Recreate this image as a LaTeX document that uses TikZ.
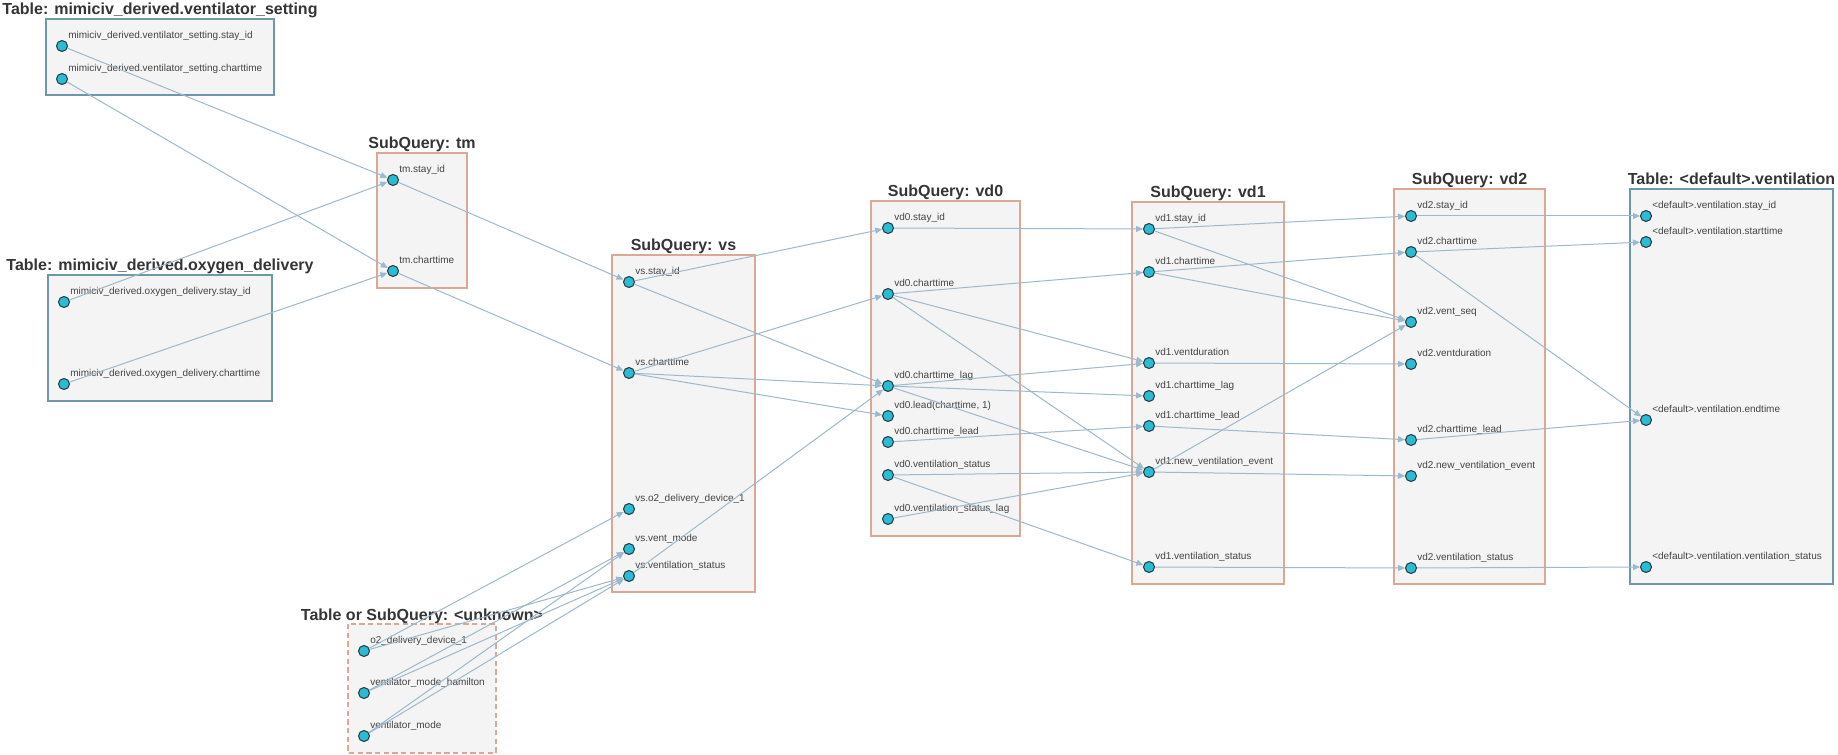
\documentclass[tikz,border=0pt]{standalone}
\usepackage{fontspec}
\setmainfont{Liberation Sans}
\usetikzlibrary{arrows.meta}

\definecolor{edgeblue}{HTML}{9DB9CC}
\definecolor{dotfill}{HTML}{2ABCD2}
\definecolor{dotline}{HTML}{24363D}
\definecolor{tblborder}{HTML}{6E98AA}
\definecolor{sqborder}{HTML}{DCA896}
\definecolor{boxfill}{HTML}{F4F4F4}
\definecolor{titlegray}{HTML}{353535}
\definecolor{lblgray}{HTML}{444444}

\tikzset{
  tablebox/.style={draw=tblborder, fill=boxfill, line width=0.95pt},
  sqbox/.style={draw=sqborder, fill=boxfill, line width=0.95pt},
  unkbox/.style={sqbox, dash pattern=on 4pt off 2.5pt},
  boxtitle/.style={font=\bfseries\fontsize{12}{14}\selectfont, text=titlegray, anchor=base, inner sep=0pt},
  fieldpt/.style={circle, draw=dotline, fill=dotfill, line width=0.75pt, minimum size=8.25pt, inner sep=0pt},
  fieldlbl/.style={font=\fontsize{7.5}{9}\selectfont, text=lblgray, anchor=base west, inner sep=0pt},
  flow/.style={draw=edgeblue, line width=0.75pt, -{Triangle[length=5.25pt, width=4.5pt]}}
}

% column field: name, x, y, caption
\newcommand\colfield[4]{%
  \node[fieldpt] (#1) at (#2,#3) {};
  \node[fieldlbl] (#1-t) at (#2+6,#3-7.5) {#4};
}

\begin{document}
\begin{tikzpicture}[x=0.75pt, y=-0.75pt]
\useasboundingbox[fill=white] (0,0) rectangle (1838,755);

% ---------- containers ----------
\path[tablebox] (46,19) rectangle (274,95);
\node[boxtitle] (t-vset) at (160,15) {Table: mimiciv\_derived.ventilator\_setting};

\path[tablebox] (48,275) rectangle (272,401);
\node[boxtitle] (t-od) at (160,271) {Table: mimiciv\_derived.oxygen\_delivery};

\path[sqbox] (377,153) rectangle (467,288);
\node[boxtitle] (t-tm) at (422,149) {SubQuery: tm};

\path[sqbox] (612,255) rectangle (755,592);
\node[boxtitle] (t-vs) at (683.5,251) {SubQuery: vs};

\path[unkbox] (348,624) rectangle (496,753);
\node[boxtitle] (t-un) at (422,620) {Table or SubQuery: <unknown>};

\path[sqbox] (871,201) rectangle (1020,536);
\node[boxtitle] (t-vd0) at (945.5,197) {SubQuery: vd0};

\path[sqbox] (1132,202) rectangle (1284,584);
\node[boxtitle] (t-vd1) at (1208,198) {SubQuery: vd1};

\path[sqbox] (1394,189) rectangle (1545,584);
\node[boxtitle] (t-vd2) at (1469.5,185) {SubQuery: vd2};

\path[tablebox] (1630,189) rectangle (1833,584);
\node[boxtitle] (t-out) at (1731.5,185) {Table: <default>.ventilation};

% ---------- fields ----------
\colfield{vsetSid}{62}{46}{mimiciv\_derived.ventilator\_setting.stay\_id}
\colfield{vsetCt}{62}{79}{mimiciv\_derived.ventilator\_setting.charttime}

\colfield{odSid}{64}{302}{mimiciv\_derived.oxygen\_delivery.stay\_id}
\colfield{odCt}{64}{384}{mimiciv\_derived.oxygen\_delivery.charttime}

\colfield{tmSid}{393}{180}{tm.stay\_id}
\colfield{tmCt}{393}{271}{tm.charttime}

\colfield{vsSid}{629}{282}{vs.stay\_id}
\colfield{vsCt}{629}{373}{vs.charttime}
\colfield{vsO2}{629}{509}{vs.o2\_delivery\_device\_1}
\colfield{vsVm}{629}{549}{vs.vent\_mode}
\colfield{vsVs}{629}{576}{vs.ventilation\_status}

\colfield{unO2}{364}{651}{o2\_delivery\_device\_1}
\colfield{unVmh}{364}{693}{ventilator\_mode\_hamilton}
\colfield{unVm}{364}{736}{ventilator\_mode}

\colfield{vdaSid}{888}{228}{vd0.stay\_id}
\colfield{vdaCt}{888}{294}{vd0.charttime}
\colfield{vdaLag}{888}{386}{vd0.charttime\_lag}
\colfield{vdaLeadf}{888}{416}{vd0.lead(charttime, 1)}
\colfield{vdaLead}{888}{442}{vd0.charttime\_lead}
\colfield{vdaVs}{888}{475}{vd0.ventilation\_status}
\colfield{vdaVsLag}{888}{519}{vd0.ventilation\_status\_lag}

\colfield{vdbSid}{1149}{229}{vd1.stay\_id}
\colfield{vdbCt}{1149}{272}{vd1.charttime}
\colfield{vdbDur}{1149}{363}{vd1.ventduration}
\colfield{vdbLag}{1149}{396}{vd1.charttime\_lag}
\colfield{vdbLead}{1149}{426}{vd1.charttime\_lead}
\colfield{vdbNew}{1149}{472}{vd1.new\_ventilation\_event}
\colfield{vdbVs}{1149}{567}{vd1.ventilation\_status}

\colfield{vdcSid}{1411}{216}{vd2.stay\_id}
\colfield{vdcCt}{1411}{252}{vd2.charttime}
\colfield{vdcSeq}{1411}{322}{vd2.vent\_seq}
\colfield{vdcDur}{1411}{364}{vd2.ventduration}
\colfield{vdcLead}{1411}{440}{vd2.charttime\_lead}
\colfield{vdcNew}{1411}{476}{vd2.new\_ventilation\_event}
\colfield{vdcVs}{1411}{568}{vd2.ventilation\_status}

\colfield{outSid}{1646}{216}{<default>.ventilation.stay\_id}
\colfield{outStart}{1646}{242}{<default>.ventilation.starttime}
\colfield{outEnd}{1646}{420}{<default>.ventilation.endtime}
\colfield{outVs}{1646}{567}{<default>.ventilation.ventilation\_status}

% ---------- lineage ----------
\draw[flow] (vsetSid) -- (tmSid);
\draw[flow] (vsetCt) -- (tmCt);
\draw[flow] (odSid) -- (tmSid);
\draw[flow] (odCt) -- (tmCt);

\draw[flow] (tmSid) -- (vsSid);
\draw[flow] (tmCt) -- (vsCt);

\draw[flow] (unO2) -- (vsO2);
\draw[flow] (unO2) -- (vsVs);
\draw[flow] (unVmh) -- (vsVm);
\draw[flow] (unVmh) -- (vsVs);
\draw[flow] (unVm) -- (vsVm);
\draw[flow] (unVm) -- (vsVs);

\draw[flow] (vsSid) -- (vdaSid);
\draw[flow] (vsSid) -- (vdaLag);
\draw[flow] (vsCt) -- (vdaCt);
\draw[flow] (vsCt) -- (vdaLag);
\draw[flow] (vsCt) -- (vdaLeadf);
\draw[flow] (vsVs) -- (vdaLag);

\draw[flow] (vdaSid) -- (vdbSid);
\draw[flow] (vdaCt) -- (vdbCt);
\draw[flow] (vdaCt) -- (vdbDur);
\draw[flow] (vdaCt) -- (vdbNew);
\draw[flow] (vdaLag) -- (vdbDur);
\draw[flow] (vdaLag) -- (vdbLag);
\draw[flow] (vdaLag) -- (vdbNew);
\draw[flow] (vdaLead) -- (vdbLead);
\draw[flow] (vdaVs) -- (vdbNew);
\draw[flow] (vdaVs) -- (vdbVs);
\draw[flow] (vdaVsLag) -- (vdbNew);

\draw[flow] (vdbSid) -- (vdcSid);
\draw[flow] (vdbSid) -- (vdcSeq);
\draw[flow] (vdbCt) -- (vdcCt);
\draw[flow] (vdbCt) -- (vdcSeq);
\draw[flow] (vdbDur) -- (vdcDur);
\draw[flow] (vdbLead) -- (vdcLead);
\draw[flow] (vdbNew) -- (vdcSeq);
\draw[flow] (vdbNew) -- (vdcNew);
\draw[flow] (vdbVs) -- (vdcVs);

\draw[flow] (vdcSid) -- (outSid);
\draw[flow] (vdcCt) -- (outStart);
\draw[flow] (vdcCt) -- (outEnd);
\draw[flow] (vdcLead) -- (outEnd);
\draw[flow] (vdcVs) -- (outVs);
\end{tikzpicture}
\end{document}
